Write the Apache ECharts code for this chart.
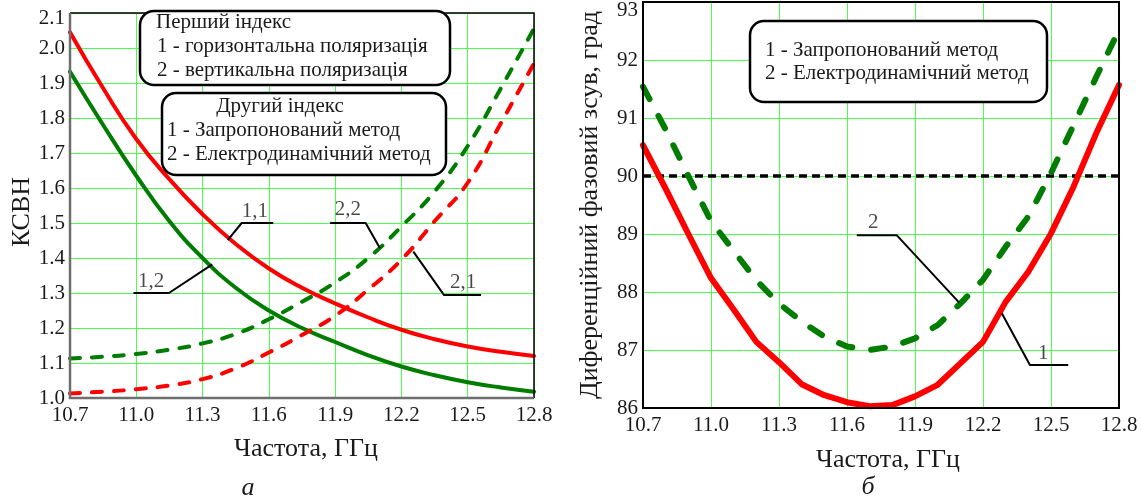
<!DOCTYPE html>
<html><head><meta charset="utf-8">
<script src="https://cdn.jsdelivr.net/npm/echarts@6/dist/echarts.min.js"></script>
<style>html,body{margin:0;padding:0;background:#fff}#c{width:1142px;height:501px}</style>
</head><body><div id="c"></div>
<script>
// ---------- Panel (а): КСВН ----------
const freqA = [10.7,10.85,11.0,11.15,11.3,11.45,11.6,11.75,11.9,12.05,12.2,12.35,12.5,12.65,12.8];
const horizProposed = [2.045,1.885,1.74,1.625,1.525,1.44,1.37,1.315,1.27,1.23,1.195,1.168,1.147,1.132,1.12]; // 1,1
const horizElectro  = [1.932,1.78,1.635,1.505,1.40,1.315,1.25,1.2,1.16,1.122,1.09,1.065,1.045,1.03,1.018]; // 1,2
const vertElectro   = [1.113,1.118,1.126,1.138,1.156,1.183,1.225,1.275,1.33,1.40,1.49,1.59,1.72,1.885,2.056]; // 2,2
const vertProposed  = [1.013,1.018,1.025,1.036,1.054,1.085,1.13,1.18,1.235,1.31,1.395,1.505,1.615,1.785,1.956]; // 2,1
const leader11 = [[11.414,1.451],[11.477,1.5],[11.62,1.5]];
const leader12 = [[10.987,1.3],[11.148,1.3],[11.344,1.382]];
const leader22 = [[11.877,1.5],[12.038,1.5],[12.103,1.428]];
const leader21 = [[12.254,1.418],[12.393,1.294],[12.56,1.294]];
const labelsA = [[11.537,1.534,'1,1'],[11.067,1.334,'1,2'],[11.958,1.54,'2,2'],[12.479,1.331,'2,1']];

// ---------- Panel (б): phase shift ----------
const freqB = [10.7,10.8,10.9,11.0,11.1,11.2,11.3,11.4,11.5,11.6,11.7,11.8,11.9,12.0,12.1,12.2,12.3,12.4,12.5,12.6,12.7,12.8];
const phaseProposed = [90.53,89.78,89.0,88.24,87.70,87.14,86.79,86.41,86.22,86.10,86.03,86.05,86.2,86.40,86.77,87.14,87.83,88.35,89.01,89.82,90.74,91.57];
const phaseElectro  = [91.54,90.8,90.0,89.22,88.71,88.2,87.80,87.49,87.23,87.06,87.0,87.06,87.20,87.43,87.80,88.21,88.78,89.30,90.05,90.88,91.71,92.52];
const refPhase = 90;
const leader2 = [[11.643,88.98],[11.819,88.98],[12.095,87.816]];
const leader1 = [[12.283,87.633],[12.407,86.741],[12.576,86.741]];
const labelsB = [[11.716,89.19,'2'],[12.466,86.94,'1']];

// ---------- layout ----------
const GA = {left:70, top:13, width:464, height:385};
const GB = {left:643, top:2, width:476, height:406};
const SERIF = "'Liberation Serif','Times New Roman',serif";
const TXT = '#1a1a1a';
const GRIDC = '#4dff4d';
const RED = '#ff0000', GREEN = '#007d00';

const pairs = (xs, ys) => xs.map((x, i) => [x, ys[i]]);

function xAx(gi, margin) {
  return {type:'value', gridIndex:gi, min:10.7, max:12.8, interval:0.3,
    axisLine:{show:false}, axisTick:{show:false},
    splitLine:{show:true, lineStyle:{color:GRIDC, width:1}},
    axisLabel:{formatter:v=>v.toFixed(1), margin:margin, fontFamily:SERIF, fontSize:21, color:TXT, showMinLabel:true, showMaxLabel:true}};
}
function yAx(gi, min, max, interval, dec, topPad) {
  return {type:'value', gridIndex:gi, min:min, max:max, interval:interval,
    axisLine:{show:false}, axisTick:{show:false},
    splitLine:{show:true, lineStyle:{color:GRIDC, width:1}},
    axisLabel:{formatter:v=>{const s = v.toFixed(dec); return Math.abs(v - max) < 1e-9 ? `{top|${s}}` : s;},
      margin:5, fontFamily:SERIF, fontSize:21, color:TXT, showMinLabel:true, showMaxLabel:true,
      rich:{top:{padding:[topPad,0,0,0], fontFamily:SERIF, fontSize:21, color:TXT}}}};
}
function curve(xi, xs, ys, color, width, dash, smooth) {
  return {type:'line', xAxisIndex:xi, yAxisIndex:xi, data:pairs(xs, ys), showSymbol:false, symbol:'none',
    smooth:smooth, silent:true, z:3,
    lineStyle:{color:color, width:width, type:dash || 'solid', cap:'round', join:'round'}};
}
function leader(xi, pts) {
  return {type:'line', xAxisIndex:xi, yAxisIndex:xi, data:pts, showSymbol:false, symbol:'none', silent:true, z:5,
    lineStyle:{color:'#000', width:2}};
}
function labels(xi, pts) {
  return {type:'scatter', xAxisIndex:xi, yAxisIndex:xi, data:pts, symbolSize:1, silent:true, z:6,
    itemStyle:{color:'rgba(0,0,0,0)'},
    label:{show:true, position:'inside', formatter:p=>p.data[2], fontFamily:SERIF, fontSize:21, color:TXT}};
}
function txt(x, y, s, size, opts) {
  return Object.assign({type:'text', x:x, y:y, z:101,
    style:Object.assign({text:s, font:`${size}px ${SERIF}`, fill:TXT, align:'left', verticalAlign:'middle',
      textAlign:'left', textVerticalAlign:'middle'}, (opts && opts.style) || {})},
    (opts && opts.el) || {});
}
function box(x, y, w, h) {
  return {type:'rect', z:100, shape:{x:x, y:y, width:w, height:h, r:14},
    style:{fill:'#fff', stroke:'#000', lineWidth:2.5}};
}

const option = {
  backgroundColor:'#fff',
  animation:false,
  grid:[
    Object.assign({outerBoundsMode:'none', containLabel:false}, GA),
    Object.assign({outerBoundsMode:'none', containLabel:false}, GB)
  ],
  xAxis:[xAx(0, 7), xAx(1, 7)],
  yAxis:[yAx(0, 1.0, 2.1, 0.1, 1, 10), yAx(1, 86, 93, 1, 0, 16)],
  series:[
    curve(0, freqA, horizProposed, RED, 4, null, true),
    curve(0, freqA, horizElectro, GREEN, 4, null, true),
    curve(0, freqA, vertElectro, GREEN, 4, [10,12], true),
    curve(0, freqA, vertProposed, RED, 4, [10,12], true),
    leader(0, leader11), leader(0, leader12), leader(0, leader22), leader(0, leader21),
    labels(0, labelsA),
    {type:'line', xAxisIndex:1, yAxisIndex:1, data:[[10.7,refPhase],[12.8,refPhase]], showSymbol:false, symbol:'none', silent:true, z:3,
      lineStyle:{color:'#000', width:3.5, type:[8,5]}},
    curve(1, freqB, phaseElectro, GREEN, 6, [14,19], false),
    curve(1, freqB, phaseProposed, RED, 6, null, false),
    leader(1, leader2), leader(1, leader1),
    labels(1, labelsB)
  ],
  graphic:[
    // frames
    {type:'polyline', z:90, shape:{points:[[GA.left,GA.top],[GA.left+GA.width,GA.top],[GA.left+GA.width,GA.top+GA.height]]}, style:{stroke:'#000', lineWidth:1.5, fill:null}},
    {type:'polyline', z:90, shape:{points:[[GA.left,GA.top],[GA.left,GA.top+GA.height],[GA.left+GA.width,GA.top+GA.height]]}, style:{stroke:'#6e6e6e', lineWidth:2.5, fill:null}},
    {type:'rect', z:90, shape:{x:GB.left, y:GB.top, width:GB.width, height:GB.height}, style:{stroke:'#000', lineWidth:2, fill:null}},
    // legend boxes panel а
    box(140, 11, 310, 74),
    txt(156, 22, 'Перший індекс', 21),
    txt(157, 46, '1 - горизонтальна поляризація', 21),
    txt(157, 70, '2 - вертикальна поляризація', 21),
    box(162, 93, 284, 82),
    txt(280, 106, 'Другий індекс', 21, {style:{align:'center', textAlign:'center'}}),
    txt(167, 130, '1 - Запропонований метод', 21),
    txt(167, 154, '2 - Електродинамічний метод', 21),
    // legend box panel б
    box(750, 21, 297, 81),
    txt(765, 50, '1 - Запропонований метод', 21),
    txt(765, 73, '2 - Електродинамічний метод', 21),
    // axis titles
    txt(22, 212, 'КСВН', 26, {style:{align:'center', textAlign:'center'}, el:{rotation:Math.PI/2}}),
    txt(306, 449, 'Частота, ГГц', 26, {style:{align:'center', textAlign:'center'}}),
    txt(248, 488, 'а', 26, {style:{align:'center', textAlign:'center', font:`italic 26px ${SERIF}`}}),
    txt(590, 205, 'Диференційний фазовий зсув, град', 26, {style:{align:'center', textAlign:'center'}, el:{rotation:Math.PI/2}}),
    txt(888, 460, 'Частота, ГГц', 26, {style:{align:'center', textAlign:'center'}}),
    txt(868, 487, 'б', 26, {style:{align:'center', textAlign:'center', font:`italic 26px ${SERIF}`}})
  ]
};
const chart = echarts.init(document.getElementById('c'), null, {renderer:'canvas'});
chart.setOption(option);
</script>
</body></html>
